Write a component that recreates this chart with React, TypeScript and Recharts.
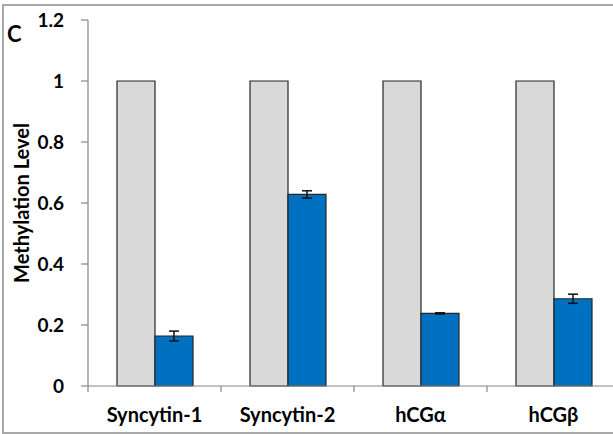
import { BarChart, Bar, XAxis, YAxis, ErrorBar } from 'recharts';

const categories = ['Syncytin-1', 'Syncytin-2', 'hCGα', 'hCGβ'];
const controlValues = [1, 1, 1, 1];
const treatedValues = [0.164, 0.628, 0.238, 0.286];
const treatedErrors = [0.016, 0.012, 0.002, 0.015];
const yTicks = [0, 0.2, 0.4, 0.6, 0.8, 1, 1.2];

const data = categories.map((name, i) => ({
  name,
  control: controlValues[i],
  treated: treatedValues[i],
  treatedErr: treatedErrors[i],
}));

const AXIS_COLOR = '#868686';
const TEXT_COLOR = '#000';
const FONT = 'Lato, "Open Sans", sans-serif';

function CategoryTick(props: any) {
  const { x, y, payload, index, visibleTicksCount } = props;
  const half = payload && payload.offset ? payload.offset : 66.5;
  const last = index === (visibleTicksCount ?? categories.length) - 1;
  return (
    <g>
      <line x1={x - half} y1={y} x2={x - half} y2={y + 6} stroke={AXIS_COLOR} strokeWidth={1.2} />
      {last && <line x1={x + half} y1={y} x2={x + half} y2={y + 6} stroke={AXIS_COLOR} strokeWidth={1.2} />}
      <text
        x={x}
        y={y + 22}
        dy="0.71em"
        textAnchor="middle"
        fontFamily={FONT}
        fontWeight={700}
        fontSize={20}
        fill={TEXT_COLOR}
      >
        {payload.value}
      </text>
    </g>
  );
}

function YLabel(props: any) {
  const vb = props.viewBox || { x: 0, y: 20, width: 88, height: 366 };
  const cx = vb.x + 21;
  const cy = vb.y + vb.height / 2;
  return (
    <text
      x={cx}
      y={cy}
      transform={`rotate(-90 ${cx} ${cy})`}
      textAnchor="middle"
      dominantBaseline="central"
      fontFamily={FONT}
      fontWeight={700}
      fontSize={20}
      fill={TEXT_COLOR}
    >
      Methylation Level
    </text>
  );
}

export default function App() {
  return (
    <div
      style={{
        position: 'absolute',
        left: 0,
        top: 0,
        width: 613,
        height: 434,
        overflow: 'hidden',
        background: '#fff',
        fontFamily: FONT,
      }}
    >
      <div
        style={{
          position: 'absolute',
          left: 2,
          top: 4,
          width: 700,
          height: 426,
          borderTop: '2px solid #a8a8a8',
          borderLeft: '2px solid #a8a8a8',
          borderBottom: '2px solid #a8a8a8',
        }}
      />
      <div
        style={{
          position: 'absolute',
          left: 7,
          top: 20,
          fontSize: 22,
          fontWeight: 700,
          color: TEXT_COLOR,
        }}
      >
        C
      </div>
      <div style={{ position: 'absolute', left: 0, top: 0 }}>
        <BarChart
          width={625}
          height={434}
          data={data}
          margin={{ top: 20, right: 5, left: 0, bottom: 18 }}
          barGap={0}
          barSize={38}
        >
          <XAxis
            dataKey="name"
            height={30}
            interval={0}
            tickLine={false}
            tickSize={0}
            tickMargin={0}
            axisLine={{ stroke: AXIS_COLOR, strokeWidth: 1.2 }}
            tick={<CategoryTick />}
          />
          <YAxis
            width={88}
            domain={[0, 1.2]}
            ticks={yTicks}
            interval={0}
            tickSize={7}
            tickMargin={17}
            axisLine={{ stroke: AXIS_COLOR, strokeWidth: 1.2 }}
            tickLine={{ stroke: AXIS_COLOR, strokeWidth: 1.2 }}
            tick={{ fill: TEXT_COLOR, fontSize: 19, fontWeight: 700, fontFamily: FONT }}
            label={<YLabel />}
          />
          <Bar dataKey="control" fill="#d9d9d9" stroke="#262626" strokeWidth={1.2} isAnimationActive={false} />
          <Bar dataKey="treated" fill="#0070c0" stroke="#262626" strokeWidth={1.2} isAnimationActive={false}>
            <ErrorBar dataKey="treatedErr" width={5} stroke="#111" strokeWidth={1.5} />
          </Bar>
        </BarChart>
      </div>
    </div>
  );
}
